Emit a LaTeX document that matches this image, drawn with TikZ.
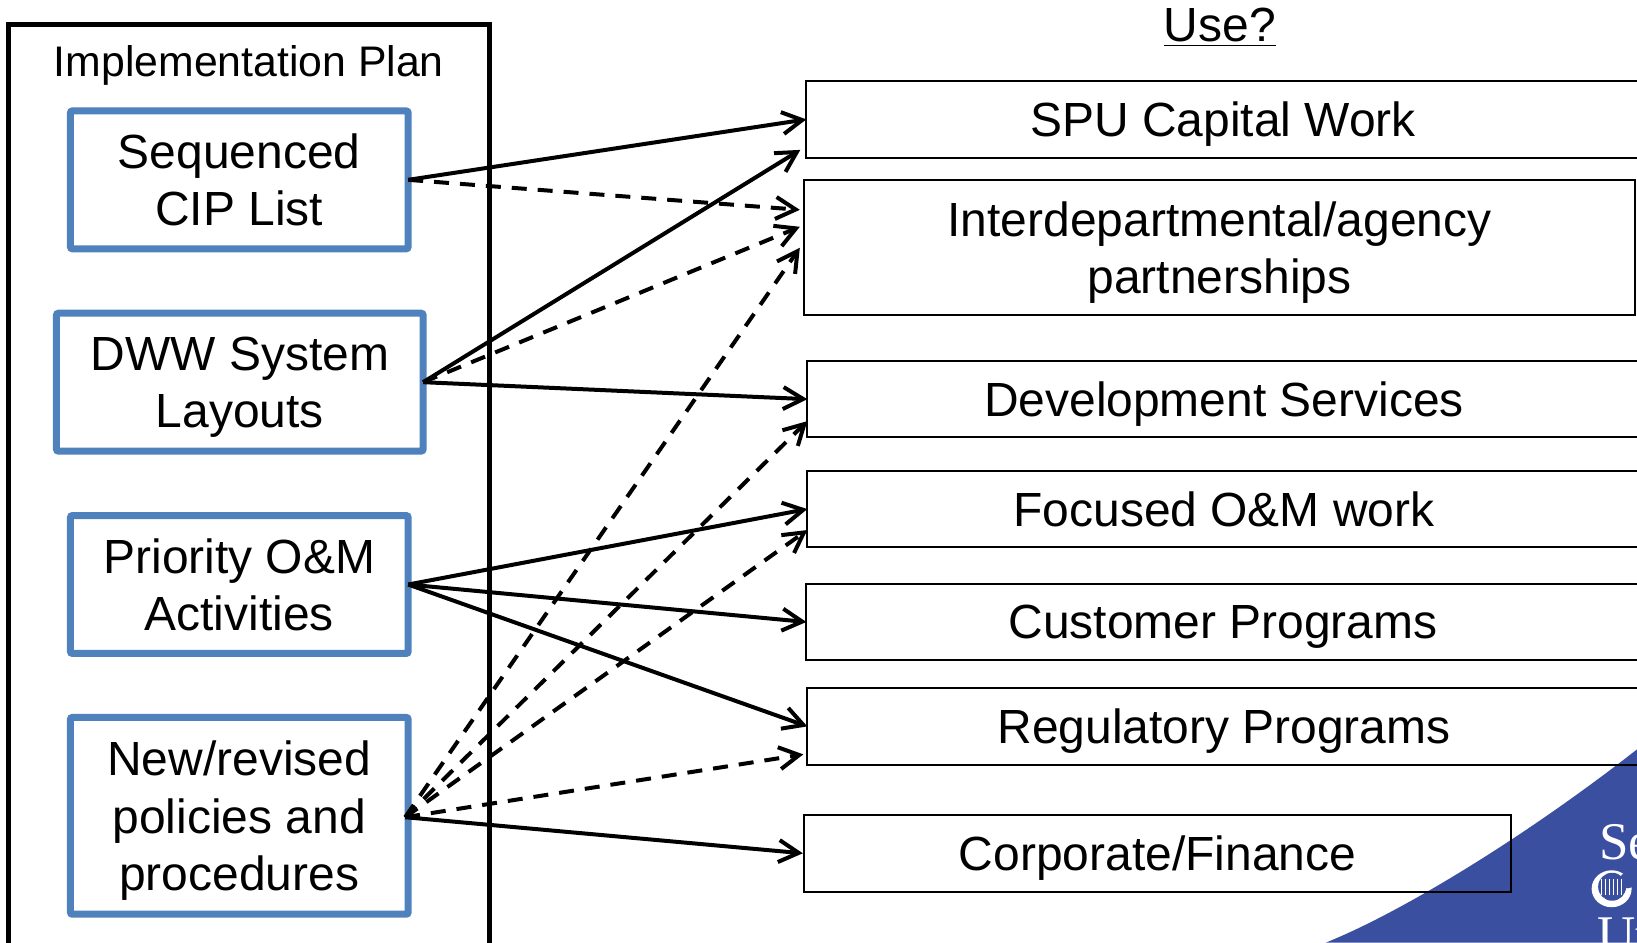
\documentclass[tikz,border=0pt]{standalone}
\usepackage{fontspec}
\setmainfont{Liberation Sans}
\newfontfamily\logofont{Liberation Serif}
\usetikzlibrary{arrows.meta}
\definecolor{planblue}{HTML}{4F81BD}
\definecolor{logoblue}{HTML}{3A4FA0}
\tikzstyle{planbox}=[
    draw=planblue,  % the blue border of the plan items
    rectangle,
    line width=3.5pt,
    rounded corners=1pt,
    outer sep=0pt,
    align=center,
    text depth=0pt,
    font=\fontsize{24}{28.7}\selectfont]
\tikzstyle{usebox}=[
    draw=black,     % thin black border, no fill
    rectangle,
    line width=1pt,
    outer sep=0pt,
    align=center,
    text depth=0pt,
    font=\fontsize{24}{28.7}\selectfont]
\tikzstyle{dashedge}=[dash pattern=on 7.5pt off 5.5pt]

\begin{document}
\begin{tikzpicture}[->,>={Straight Barb[length=10pt,width=11pt]},line width=2pt,x=0.5pt,y=-0.5pt]
        \useasboundingbox (0,0) rectangle (1638.4,943.4);

        % Blue corner with the logo
        \fill[logoblue] (1327,943.4) .. controls (1405,912) and (1530,835) .. (1638.4,750) -- (1638.4,943.4) -- cycle;
        \node[white, inner sep=0pt, anchor=base west, font=\logofont\fontsize{26.5}{30}\selectfont] (logoa) at (1598.5,860) {Se};
        \node[white, inner sep=0pt, anchor=base west, font=\logofont\fontsize{26.5}{30}\selectfont] (logob) at (1597,953) {Ut};
        \fill[white] (1613,889.5) ellipse (20 and 18.5);
        \fill[logoblue] (1613.5,887.5) circle (14);
        \fill[logoblue] (1629,881) circle (8);
        \foreach \hatch in {1603,1607,1611,1615,1619,1623}
            \draw[-,white,line width=0.5pt] (\hatch,880) -- (\hatch,896);

        % Draw the boxes on the left
        \node[draw=black, line width=2.5pt, rectangle, outer sep=0pt, minimum width=240.5pt, minimum height=600pt, anchor=north west] (plan) at (9,25) {};
        \node[inner sep=0pt, text depth=0pt, font=\fontsize{21.4}{25}\selectfont] (plantitle) at (249,61.5) {Implementation Plan};
        \node[planbox, minimum width=169pt, minimum height=69pt] (cip) at (239.5,180) {Sequenced\\CIP List};
        \node[planbox, minimum width=183.5pt, minimum height=69pt] (dww) at (240,382.5) {DWW System\\Layouts};
        \node[planbox, minimum width=169pt, minimum height=69pt] (om) at (239.5,585) {Priority O\&M\\Activities};
        \node[planbox, minimum width=169pt, minimum height=98.5pt] (policy) at (239.5,816.5) {New/revised\\policies and\\procedures};

        % Draw the boxes on the right
        \node[inner sep=0pt, font=\fontsize{24}{28.7}\selectfont] (use) at (1221,27.5) {\underline{Use?}};
        \node[usebox, minimum width=417pt, minimum height=38.5pt] (spu) at (1224,119.5) {SPU Capital Work};
        \node[usebox, minimum width=416pt, minimum height=67.5pt] (inter) at (1220.5,248) {Interdepartmental/agency\\partnerships};
        \node[usebox, minimum width=417pt, minimum height=38pt] (dev) at (1225,399.5) {Development Services};
        \node[usebox, minimum width=417pt, minimum height=38pt] (focus) at (1225,509.5) {Focused O\&M work};
        \node[usebox, minimum width=417pt, minimum height=38pt] (cust) at (1224,622.5) {Customer Programs};
        \node[usebox, minimum width=417pt, minimum height=38.5pt] (reg) at (1225,727) {Regulatory Programs};
        \node[usebox, minimum width=354pt, minimum height=38.5pt] (corp) at (1158.5,854) {Corporate/Finance};

        % Connect boxes with edges
        \path (cip.east) edge (spu.west);
        \path (cip.east) edge[dashedge] ([xshift=-2pt,yshift=19pt]inter.west);
        \path (dww.east) edge ([xshift=-3pt,yshift=4pt]spu.south west);
        \path (dww.east) edge[dashedge] ([xshift=-2pt,yshift=10.5pt]inter.west);
        \path (dww.east) edge (dev.west);
        \path (om.east) edge (focus.west);
        \path (om.east) edge (cust.west);
        \path (om.east) edge (reg.west);
        \path ([xshift=-1.5pt,yshift=-0.7pt]policy.east) edge[dashedge] ([xshift=-2pt]inter.west);
        \path ([xshift=-1.5pt,yshift=-0.7pt]policy.east) edge[dashedge] ([yshift=-11pt]dev.west);
        \path ([xshift=-1.5pt,yshift=-0.7pt]policy.east) edge[dashedge] ([yshift=-10.5pt]focus.west);
        \path ([xshift=-1.5pt,yshift=-0.7pt]policy.east) edge[dashedge] ([xshift=-2pt,yshift=-14pt]reg.west);
        \path ([xshift=-1.5pt,yshift=-0.7pt]policy.east) edge ([xshift=-0.5pt]corp.west);
\end{tikzpicture}
\end{document}
